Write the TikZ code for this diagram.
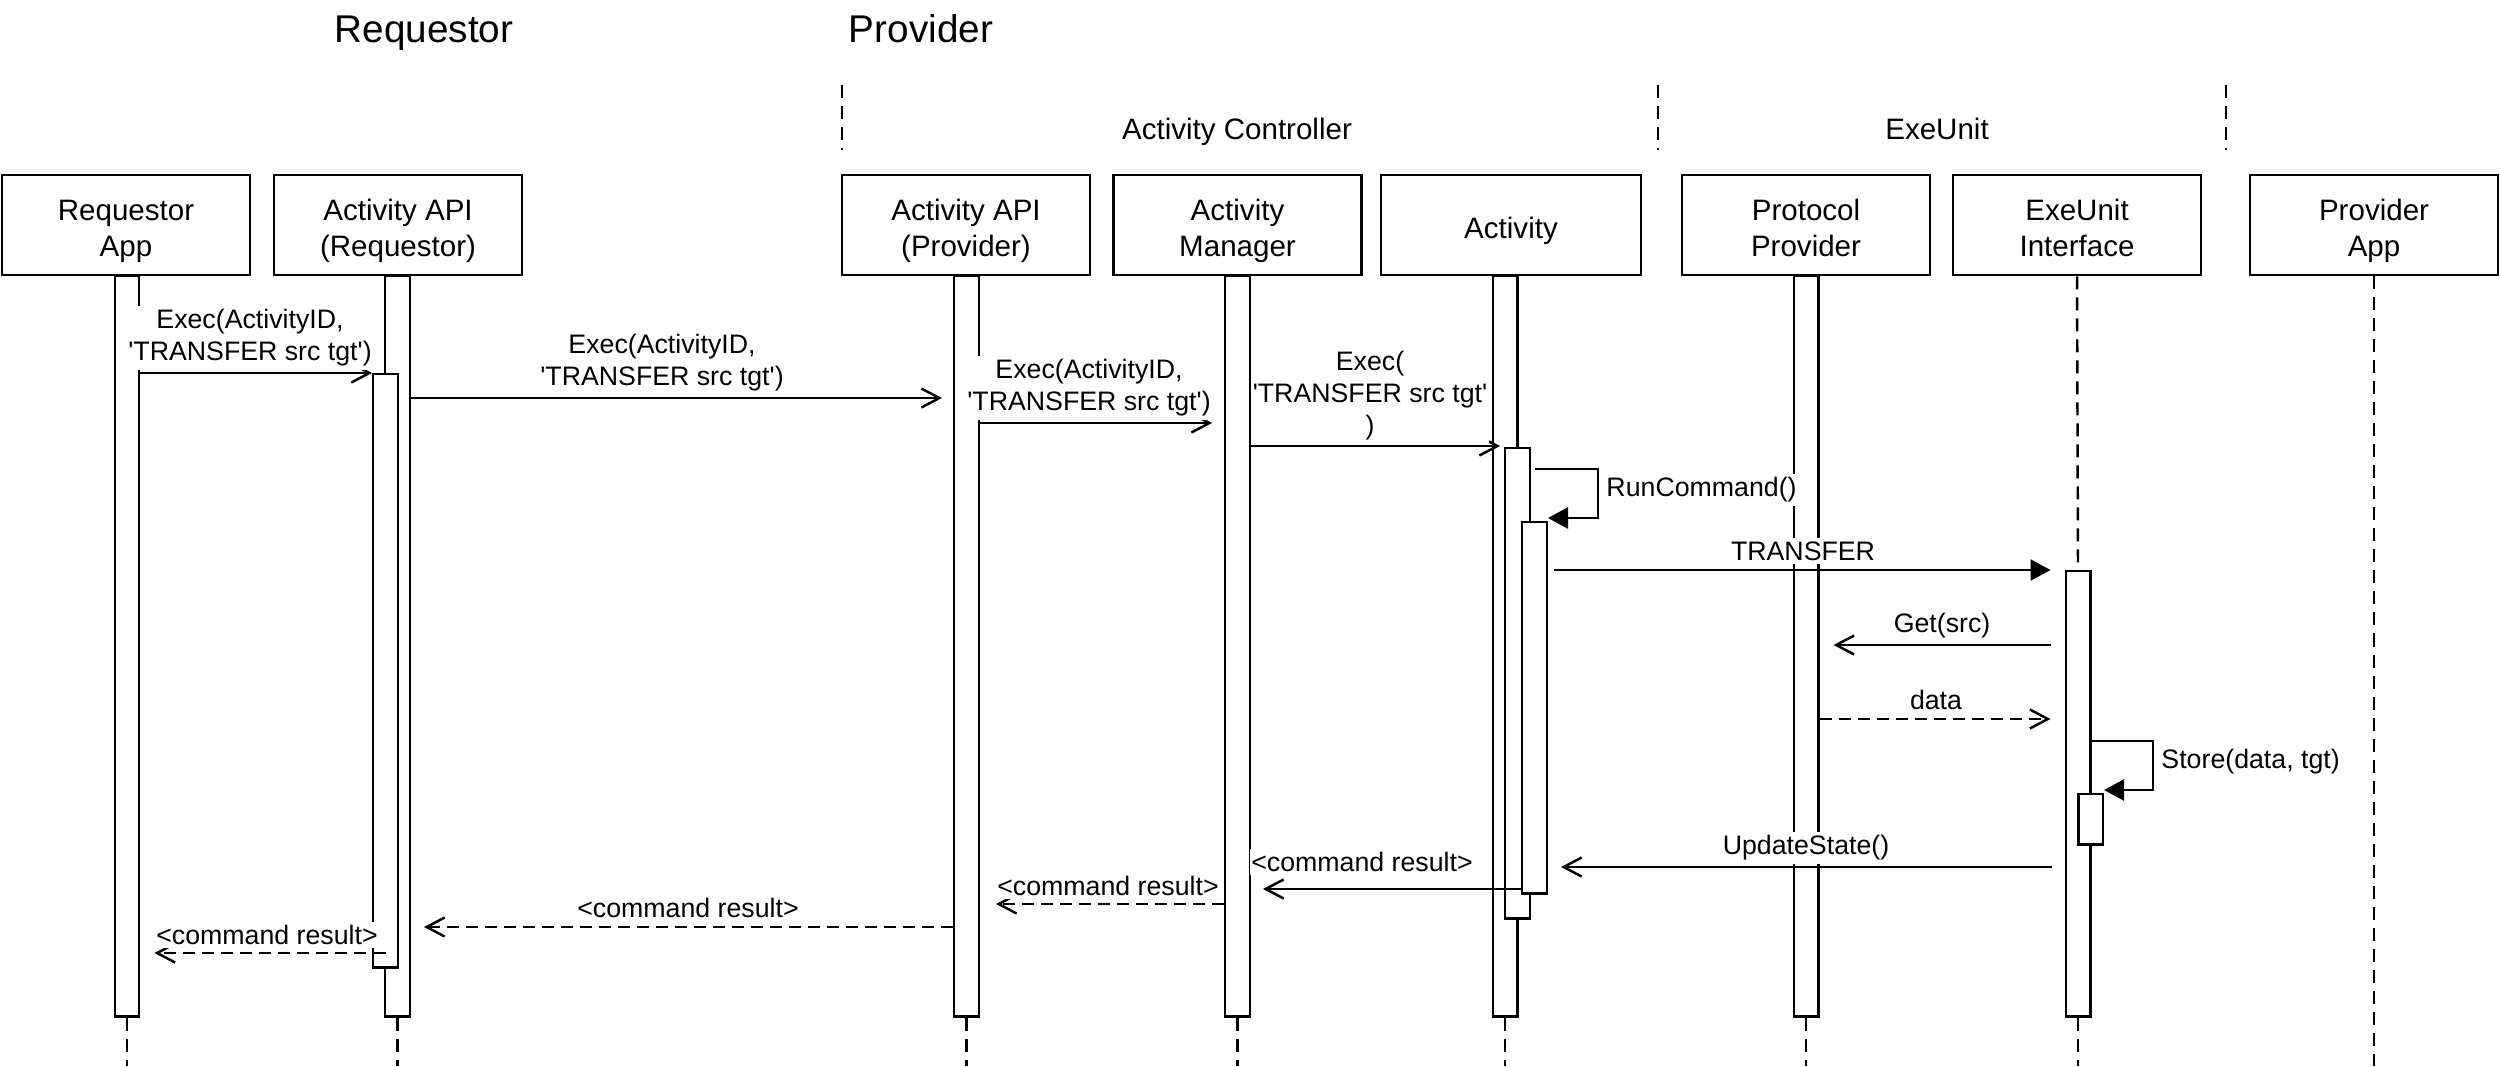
\documentclass[tikz,border=0pt]{standalone}
\usepackage{fontspec}
\setmainfont{Liberation Sans}
\usetikzlibrary{arrows.meta}
\newcommand{\tallstrut}{\rule{0pt}{0.376cm}}

\begin{document}
\begin{tikzpicture}[x=0.01cm,y=-0.01cm]
\tikzset{ActorStyle/.style =
	{draw,
		shape = rectangle,
		line width = 0.7pt,
		minimum width = 2.48cm,
		minimum height = 1cm,
		inner ysep = 0pt,
		align = center,
		execute at end node = {\rule[-0.106cm]{0pt}{0.106cm}},
		font = \fontsize{8.4}{10.1}\selectfont}}
\tikzset{BarStyle/.style =
	{draw,
		fill = white,
		line width = 0.7pt,
		minimum width = 0.245cm,
		inner sep = 0pt,
		anchor = north}}
\tikzset{MsgStyle/.style = {line width = 0.7pt, -{Straight Barb[length=0.18cm,width=0.19cm]}}}
\tikzset{CallStyle/.style = {line width = 0.7pt, -{Triangle[length=0.2cm,width=0.21cm]}}}
\tikzset{ReturnStyle/.style = {MsgStyle, dash pattern = on 0.12cm off 0.07cm}}
\tikzset{TailStyle/.style = {line width = 0.7pt, dash pattern = on 0.13cm off 0.08cm}}
\tikzset{LabelStyle/.style =
	{fill = white,
		inner xsep = 0.5pt,
		inner ysep = 1pt,
		align = center,
		font = \fontsize{7.6}{9.1}\selectfont}}
\useasboundingbox (0,0) rectangle (2500,1066);
\coordinate (bottom) at (0,1066);
\node[font = \fontsize{11}{13}\selectfont, anchor = base] (requestor) at (424,42) {Requestor};
\node[font = \fontsize{11}{13}\selectfont, anchor = base] (provider) at (921,42) {Provider};
\node[font = \fontsize{8.4}{10.1}\selectfont, anchor = base] (controller) at (1237,139) {Activity Controller};
\node[font = \fontsize{8.4}{10.1}\selectfont, anchor = base] (exeunit) at (1937,139) {ExeUnit};
\foreach \x in {842,1658,2226}
	\draw[TailStyle] (\x,85) -- (\x,150);
\node[ActorStyle] (RA) at (126,225) {\tallstrut Requestor\\App};
\node[ActorStyle] (ARQ) at (398,225) {\tallstrut Activity API\\(Requestor)};
\node[ActorStyle] (APR) at (966,225) {\tallstrut Activity API\\(Provider)};
\node[ActorStyle] (AM) at (1237.5,225) {\tallstrut Activity\\Manager};
\node[ActorStyle, minimum width = 2.6cm] (AC) at (1511,225) {\tallstrut Activity};
\node[ActorStyle] (PP) at (1806,225) {\tallstrut Protocol\\Provider};
\node[ActorStyle] (EI) at (2077,225) {\tallstrut ExeUnit\\Interface};
\node[ActorStyle] (PA) at (2374,225) {\tallstrut Provider\\App};
\node[BarStyle, minimum height = 7.4cm] (lRA) at (127,275) {};
\node[BarStyle, minimum height = 7.4cm] (lARQ) at (397.5,275) {};
\node[BarStyle, minimum height = 7.4cm] (lAPR) at (966.5,275) {};
\node[BarStyle, minimum height = 7.4cm] (lAM) at (1237.5,275) {};
\node[BarStyle, minimum height = 7.4cm] (lAC) at (1505,275) {};
\node[BarStyle, minimum height = 7.4cm] (lPP) at (1806,275) {};
\node[BarStyle, minimum height = 4.45cm] (lEI) at (2078,570) {};
\node[BarStyle, minimum height = 5.93cm] (xARQ) at (385.5,373) {};
\node[BarStyle, minimum height = 4.7cm] (xAC1) at (1517.5,447) {};
\node[BarStyle, minimum height = 3.71cm] (xAC2) at (1534.5,521) {};
\node[BarStyle, minimum height = 0.5cm] (xEI) at (2090.5,793) {};
\foreach \n in {lRA,lARQ,lAPR,lAM,lAC,lPP,lEI}
	\draw[TailStyle] (\n.south) -- (\n.south |- bottom);
\draw[TailStyle] (PA.south) -- (PA.south |- bottom);
\draw[TailStyle] (EI.south) -- (lEI.north);
\draw[MsgStyle] (lRA.east |- 0,373) -- (xARQ.west |- 0,373);
\draw[MsgStyle] (lARQ.east |- 0,398) -- ([xshift=-0.11cm]lAPR.west |- 0,398);
\draw[MsgStyle] (lAPR.east |- 0,423) -- ([xshift=-0.12cm]lAM.west |- 0,423);
\draw[MsgStyle] (lAM.east |- 0,446) -- ([xshift=-0.04cm]xAC1.west |- 0,446);
\draw[CallStyle] ([xshift=0.04cm]xAC1.east |- 0,469) -| ([xshift=0.5cm]xAC2.east |- 0,518) -- (xAC2.east |- 0,518);
\draw[CallStyle] ([xshift=0.06cm]xAC2.east |- 0,570) -- ([xshift=-0.14cm]lEI.west |- 0,570);
\draw[MsgStyle] ([xshift=-0.14cm]lEI.west |- 0,645) -- ([xshift=0.14cm]lPP.east |- 0,645);
\draw[ReturnStyle] (lPP.east |- 0,719) -- ([xshift=-0.14cm]lEI.west |- 0,719);
\draw[CallStyle] (lEI.east |- 0,741) -| ([xshift=0.49cm]xEI.east |- 0,790) -- (xEI.east |- 0,790);
\draw[MsgStyle] ([xshift=-0.13cm]lEI.west |- 0,867) -- ([xshift=0.13cm]xAC2.east |- 0,867);
\draw[MsgStyle] (xAC2.west |- 0,889) -- ([xshift=0.12cm]lAM.east |- 0,889);
\draw[ReturnStyle] (lAM.west |- 0,904) -- ([xshift=0.16cm]lAPR.east |- 0,904);
\draw[ReturnStyle] (lAPR.west |- 0,927) -- ([xshift=0.25cm]xARQ.east |- 0,927);
\draw[ReturnStyle] (xARQ.center |- 0,953) -- ([xshift=0.14cm]lRA.east |- 0,953);
\node[LabelStyle] (m1) at (250,338) {Exec(ActivityID,\\\textquotesingle TRANSFER src tgt\textquotesingle)};
\node[LabelStyle] (m2) at (662,363) {Exec(ActivityID,\\\textquotesingle TRANSFER src tgt\textquotesingle)};
\node[LabelStyle] (m3) at (1089,388) {Exec(ActivityID,\\\textquotesingle TRANSFER src tgt\textquotesingle)};
\node[LabelStyle] (m4) at (1370,396) {Exec(\\\textquotesingle TRANSFER src tgt\textquotesingle\\)};
\node[LabelStyle, anchor = west] (m5) at (1604,490) {RunCommand()};
\node[LabelStyle] (m6) at (1803,551) {TRANSFER};
\node[LabelStyle] (m7) at (1942,626) {Get(src)};
\node[LabelStyle] (m8) at (1936,700) {data};
\node[LabelStyle, anchor = west] (m9) at (2159,762) {Store(data, tgt)};
\node[LabelStyle] (m10) at (1806,848) {UpdateState()};
\node[LabelStyle] (m11) at (1362,862) {<command result>};
\node[LabelStyle] (m12) at (1108,886) {<command result>};
\node[LabelStyle] (m13) at (688,908) {<command result>};
\node[LabelStyle] (m14) at (267,935) {<command result>};
\end{tikzpicture}
\end{document}
